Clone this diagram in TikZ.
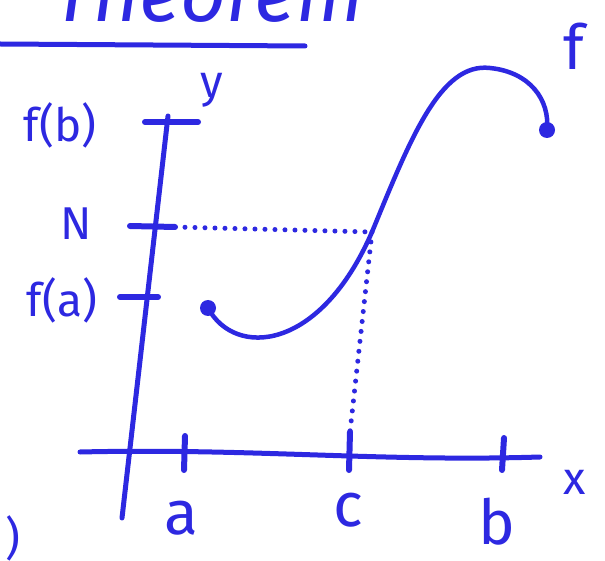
\documentclass[tikz,border=0pt]{standalone}
\usepackage{fontspec}
\setmainfont{Fira Sans}
\definecolor{pen}{RGB}{45,40,225}
\begin{document}
\begin{tikzpicture}[x=1pt,y=-1pt,
  ink/.style={draw=pen,line width=5pt,line cap=round,line join=round},
  tickmark/.style={draw=pen,line width=6pt,line cap=round},
  dotline/.style={draw=pen,line width=5pt,line cap=round,dash pattern=on 0pt off 10pt},
  lab/.style={text=pen,font=\fontsize{46}{46}\selectfont,inner sep=0pt},
  biglab/.style={text=pen,font=\fontsize{62}{62}\selectfont,inner sep=0pt},
  penblob/.style={circle,fill=pen,minimum size=16pt,inner sep=0pt}]
\useasboundingbox (0,0) rectangle (605,561);
\fill[white] (0,0) rectangle (605,561);
\begin{scope}
\clip (0,0) rectangle (605,561);
\node[text=pen,font=\fontsize{80}{80}\selectfont\itshape,anchor=base west,inner sep=0pt] (title) at (52,22) {Theorem};
\end{scope}
\draw[ink] (0,44) -- (305,46);
% axes
\coordinate (ytop) at (168,116);
\coordinate (ybot) at (122,518);
\coordinate (xl) at (80,452);
\coordinate (xr) at (540,457);
\draw[ink] (ytop) -- (ybot);
\draw[ink] (xl) .. controls (250,448) and (380,462) .. (xr);
% y ticks
\coordinate (fbL) at (145,122); \coordinate (fbR) at (198,122);
\coordinate (nL) at (130,226); \coordinate (nR) at (175,227);
\coordinate (faL) at (120,297); \coordinate (faR) at (158,297);
\draw[tickmark] (fbL) -- (fbR);
\draw[tickmark] (nL) -- (nR);
\draw[tickmark] (faL) -- (faR);
% x ticks
\coordinate (aT) at (185,436); \coordinate (aB) at (184,470);
\coordinate (cT) at (350,432); \coordinate (cB) at (349,470);
\coordinate (bT) at (504,438); \coordinate (bB) at (502,470);
\draw[tickmark] (aT) -- (aB);
\draw[tickmark] (cT) -- (cB);
\draw[tickmark] (bT) -- (bB);
% curve
\node[penblob] (fa) at (208,308) {};
\node[penblob] (fb) at (547,130) {};
\coordinate (cp) at (372,232);
\coordinate (peak) at (490,68);
\draw[ink,line width=4.5pt] (fa.center) .. controls (235,358) and (320,352) .. (cp)
  .. controls (410,140) and (440,62) .. (peak)
  .. controls (530,72) and (550,100) .. (fb.center);
% dotted guides
\draw[dotline] (nR) -- (cp);
\draw[dotline] (cp) -- (cT);
% labels
\node[lab] (lfb) at (60,125) {f(b)};
\node[lab] (lN) at (76,224) {N};
\node[lab] (lfa) at (62,300) {f(a)};
\node[lab] (ly) at (212,90) {y};
\node[biglab] (lf) at (574,46) {f};
\node[biglab] (la) at (181,518) {a};
\node[biglab] (lc) at (348,510) {c};
\node[biglab] (lb) at (497,522) {b};
\node[lab] (lx) at (575,482) {x};
\node[lab] (paren) at (13,538) {)};
\end{tikzpicture}
\end{document}
